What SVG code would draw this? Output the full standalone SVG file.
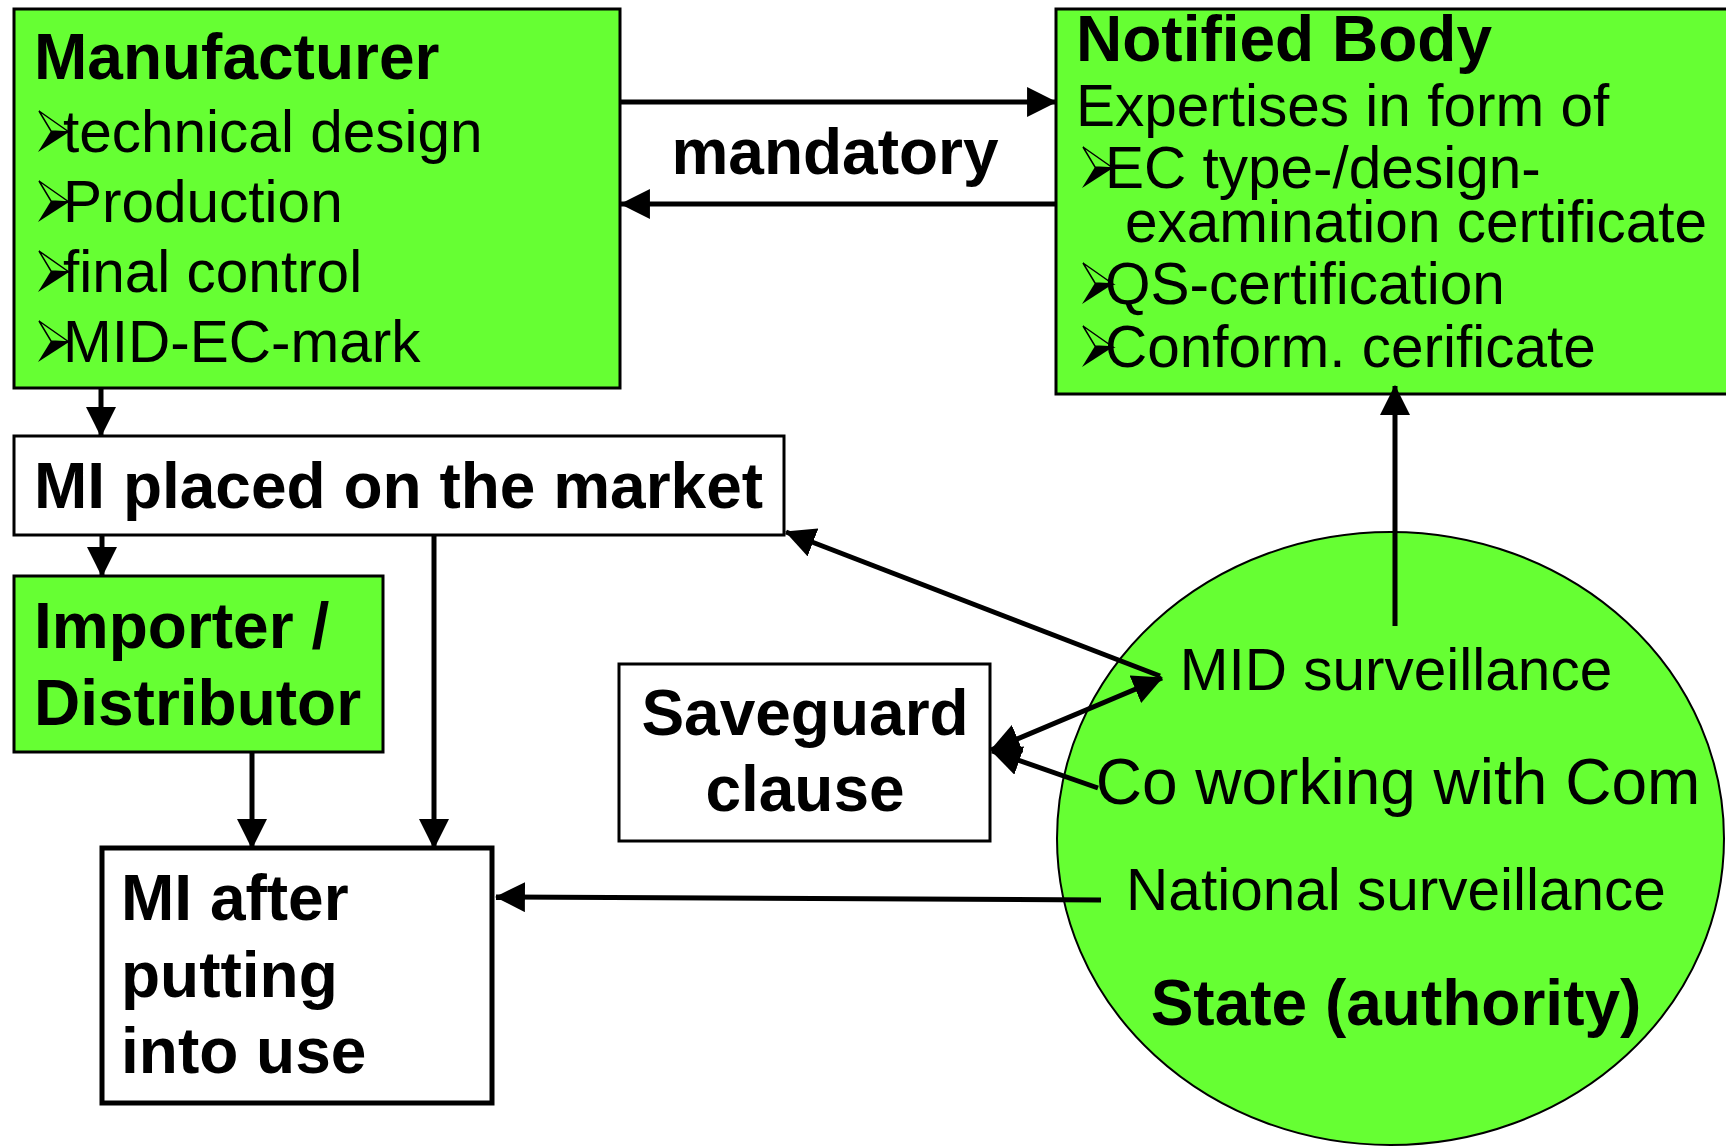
<svg xmlns="http://www.w3.org/2000/svg" width="1726" height="1147" viewBox="0 0 1726 1147">
  <style>
    text { font-family: "Liberation Sans", Arial, sans-serif; fill: #000; }
    .b { font-weight: bold; font-size: 64px; }
    .r { font-size: 58.5px; }
    .box { stroke: #000; stroke-width: 3; }
    .green { fill: #66FF33; }
    .white { fill: #FFFFFF; }
    .wire { stroke: #000; stroke-width: 5; fill: none; }
  </style>
  <defs>
    <marker id="head" markerUnits="userSpaceOnUse" markerWidth="30" markerHeight="30" viewBox="0 0 28 28" refX="27" refY="14" orient="auto-start-reverse">
      <path d="M0,0 L28,14 L0,28 Z" fill="#000"/>
    </marker>
    <!-- three-d arrowhead bullet, origin at left/baseline -->
    <g id="bullet">
      <path d="M1,-41 L31,-20 L13,-21 Z" fill="none" stroke="#000" stroke-width="1.5" stroke-linejoin="miter"/>
      <path d="M13,-21 L31,-20 L0,0 Z" fill="#000"/>
    </g>
  </defs>

  <rect width="1726" height="1147" fill="#FFFFFF"/>

  <g id="manufacturer">
    <rect class="box green" x="14" y="9" width="606" height="379"/>
    <text class="b" x="34" y="79">Manufacturer</text>
    <use href="#bullet" x="38" y="152"/>
    <text class="r" x="63" y="152">technical design</text>
    <use href="#bullet" x="38" y="222"/>
    <text class="r" x="63" y="222">Production</text>
    <use href="#bullet" x="38" y="292"/>
    <text class="r" x="63" y="292">final control</text>
    <use href="#bullet" x="38" y="362"/>
    <text class="r" x="63" y="362">MID-EC-mark</text>
  </g>

  <g id="notified-body">
    <rect class="box green" x="1056" y="9" width="680" height="385"/>
    <text class="b" x="1076" y="61">Notified Body</text>
    <text class="r" x="1076" y="126">Expertises in form of</text>
    <use href="#bullet" x="1082" y="188"/>
    <text class="r" x="1105" y="188">EC type-/design-</text>
    <text class="r" x="1125" y="242">examination certificate</text>
    <use href="#bullet" x="1082" y="304"/>
    <text class="r" x="1105" y="304">QS-certification</text>
    <use href="#bullet" x="1082" y="367"/>
    <text class="r" x="1105" y="367">Conform. cerificate</text>
  </g>

  <g id="mi-placed">
    <rect class="box white" x="14" y="436" width="770" height="99"/>
    <text class="b" x="34" y="508">MI placed on the market</text>
  </g>

  <g id="importer">
    <rect class="box green" x="14" y="576" width="369" height="176"/>
    <text class="b" x="34" y="648">Importer /</text>
    <text class="b" x="34" y="725">Distributor</text>
  </g>

  <g id="mi-after">
    <rect class="white" x="102" y="848" width="390" height="255" stroke="#000" stroke-width="5"/>
    <text class="b" x="121" y="920">MI after</text>
    <text class="b" x="121" y="997">putting</text>
    <text class="b" x="121" y="1073">into use</text>
  </g>

  <g id="saveguard">
    <rect class="box white" x="619" y="664" width="371" height="177"/>
    <text class="b" x="805" y="735" text-anchor="middle">Saveguard</text>
    <text class="b" x="805" y="811" text-anchor="middle">clause</text>
  </g>

  <g id="state">
    <ellipse class="green" cx="1390.5" cy="838.5" rx="333.5" ry="306.5" stroke="#000" stroke-width="2"/>
    <text class="r" x="1396" y="690" text-anchor="middle">MID surveillance</text>
    <text class="r" x="1398" y="804" text-anchor="middle" style="font-size:64px">Co working with Com</text>
    <text class="r" x="1396" y="910" text-anchor="middle">National surveillance</text>
    <text class="b" x="1396" y="1025" text-anchor="middle">State (authority)</text>
  </g>

  <!-- connectors, drawn last so they run over the ellipse -->
  <g id="connectors">
    <line class="wire" x1="620" y1="102" x2="1056" y2="102" marker-end="url(#head)"/>
    <line class="wire" x1="1056" y1="204" x2="621" y2="204" marker-end="url(#head)"/>
    <line class="wire" x1="101" y1="388" x2="101" y2="436" marker-end="url(#head)"/>
    <line class="wire" x1="102" y1="535" x2="102" y2="576" marker-end="url(#head)"/>
    <line class="wire" x1="434" y1="535" x2="434" y2="848" marker-end="url(#head)"/>
    <line class="wire" x1="252" y1="752" x2="252" y2="848" marker-end="url(#head)"/>
    <line class="wire" x1="1395" y1="626" x2="1395" y2="386" marker-end="url(#head)"/>
    <line class="wire" x1="1160" y1="676" x2="786" y2="532" marker-end="url(#head)"/>
    <line class="wire" x1="991" y1="750" x2="1162" y2="678" marker-start="url(#head)" marker-end="url(#head)"/>
    <line class="wire" x1="1098" y1="788" x2="992" y2="751" marker-end="url(#head)"/>
    <line class="wire" x1="1101" y1="900" x2="496" y2="897" marker-end="url(#head)"/>
    <text class="b" x="835" y="174" text-anchor="middle">mandatory</text>
  </g>
</svg>
